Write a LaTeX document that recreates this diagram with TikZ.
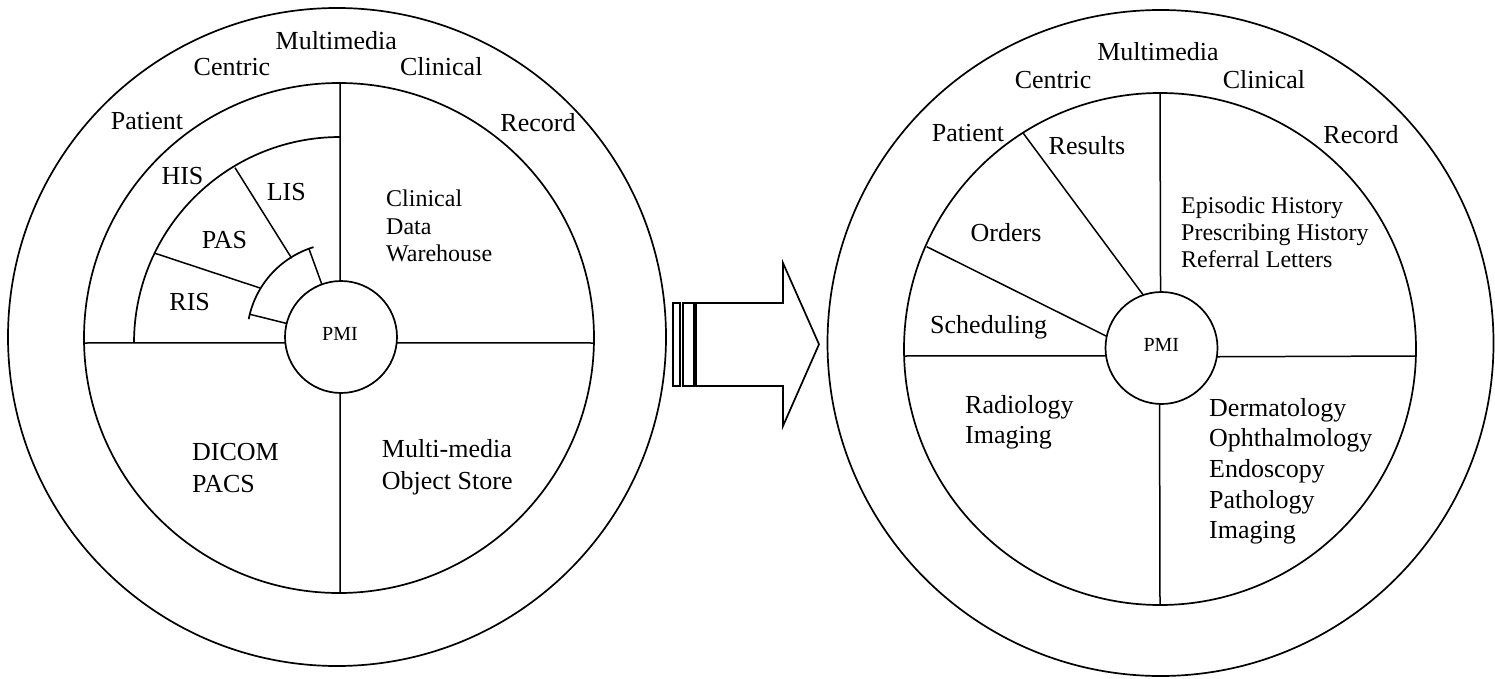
\documentclass[tikz,border=0pt]{standalone}
\usepackage{fontspec}
\setmainfont{Liberation Serif}
\begin{document}
\begin{tikzpicture}[x=1pt,y=1pt,
  ring/.style={line width=1.7pt},
  divider/.style={line width=1.5pt},
  hub/.style={circle, draw, line width=1.7pt, minimum size=112pt, inner sep=0pt, outer sep=0pt},
  big/.style={font=\fontsize{26}{30}\selectfont, inner sep=0pt, anchor=base},
  bigl/.style={big, anchor=base west},
  mid/.style={font=\fontsize{24}{27}\selectfont, inner sep=0pt, anchor=base west},
  small/.style={font=\fontsize{20}{24}\selectfont, inner sep=0pt, anchor=base},
  arrowline/.style={line width=1.7pt, line join=miter},
]
\useasboundingbox (0,0) rectangle (1495,-679);

% ---------------- left wheel ----------------
\draw[ring] (337,-337) circle[radius=329];
\draw[ring] (339,-338) circle[radius=255];
\node[hub] (pmiL) at (341,-337) {};
\node[small] (pmiLt) at (340,-340) {PMI};

\draw[divider] (84,-343) -- (pmiL.186);
\draw[divider] (pmiL.354) -- (594,-343);
\draw[divider] (340,-83) -- (pmiL.91);
\draw[divider] (pmiL.269) -- (340,-593);

% sub-sector of the upper-left quadrant
\draw[ring] (134,-343) arc[start angle=180, end angle=90, radius=206];
\draw[ring] (248.7,-319.1) arc[start angle=169, end angle=107, radius=94];
\draw[divider] (pmiL.166) -- (249.8,-314.3);
\draw[divider] (pmiL.110) -- (308.9,-248.7);
\draw[divider] (155,-253.3) -- (260,-288);
\draw[divider] (235,-167.7) -- (291.7,-258.3);

\node[big] (mmL) at (336.3,-50) {Multimedia};
\node[big] (ceL) at (232,-75.3) {Centric};
\node[big] (clL) at (441.3,-75.3) {Clinical};
\node[big] (paL) at (147,-130) {Patient};
\node[big] (reL) at (538,-131.7) {Record};
\node[big] (his) at (182.5,-185) {HIS};
\node[big] (lis) at (286.3,-200.7) {LIS};
\node[big] (pas) at (224.5,-248.3) {PAS};
\node[big] (ris) at (189.7,-310.7) {RIS};

\node[mid] (cdw1) at (386,-207) {Clinical};
\node[mid] (cdw2) at (386,-234) {Data};
\node[mid] (cdw3) at (386,-261) {Warehouse};

\node[bigl] (dic1) at (192,-460) {DICOM};
\node[bigl] (dic2) at (192,-492.6) {PACS};

\node[bigl] (mos1) at (381.7,-457.6) {Multi-media};
\node[bigl] (mos2) at (381.7,-489) {Object Store};

% ---------------- transition arrow ----------------
\draw[arrowline] (673,-303) rectangle (680,-386);
\draw[arrowline] (683,-303) rectangle (694,-386);
\draw[arrowline] (696,-303) -- (783,-303) -- (783,-263) -- (819,-344.3)
  -- (783,-426) -- (783,-386) -- (696,-386) -- cycle;

% ---------------- right wheel ----------------
\draw[ring] (1160.5,-343) circle[radius=333];
\draw[ring] (1160,-349) circle[radius=256];
\node[hub] (pmiR) at (1161.5,-348) {};
\node[small] (pmiRt) at (1161.3,-351.7) {PMI};

\draw[divider] (904.1,-356) -- (pmiR.188.2);
\draw[divider] (pmiR.351.8) -- (1416,-356);
\draw[divider] (1160,-93) -- (pmiR.91.5);
\draw[divider] (pmiR.268.5) -- (1160,-605);

\draw[divider] (1023.3,-133.3) -- (pmiR.109);
\draw[divider] (926.7,-246.7) -- (pmiR.168.5);

\node[big] (mmR) at (1158,-60.6) {Multimedia};
\node[big] (ceR) at (1053,-88.7) {Centric};
\node[big] (clR) at (1264,-88.7) {Clinical};
\node[big] (paR) at (968,-142) {Patient};
\node[big] (reR) at (1361,-143.7) {Record};
\node[big] (res) at (1087,-155) {Results};
\node[big] (ord) at (1006,-241) {Orders};
\node[bigl] (sch) at (930,-333) {Scheduling};

\node[mid] (eh1) at (1181,-213) {Episodic History};
\node[mid] (eh2) at (1181,-240.5) {Prescribing History};
\node[mid] (eh3) at (1181,-267) {Referral Letters};

\node[bigl] (rad1) at (965,-413) {Radiology};
\node[bigl] (rad2) at (965,-443) {Imaging};

\node[bigl] (mm1) at (1209,-416) {Dermatology};
\node[bigl] (mm2) at (1209,-446.7) {Ophthalmology};
\node[bigl] (mm3) at (1209,-477.4) {Endoscopy};
\node[bigl] (mm4) at (1209,-508.1) {Pathology};
\node[bigl] (mm5) at (1209,-538.8) {Imaging};
\end{tikzpicture}
\end{document}
